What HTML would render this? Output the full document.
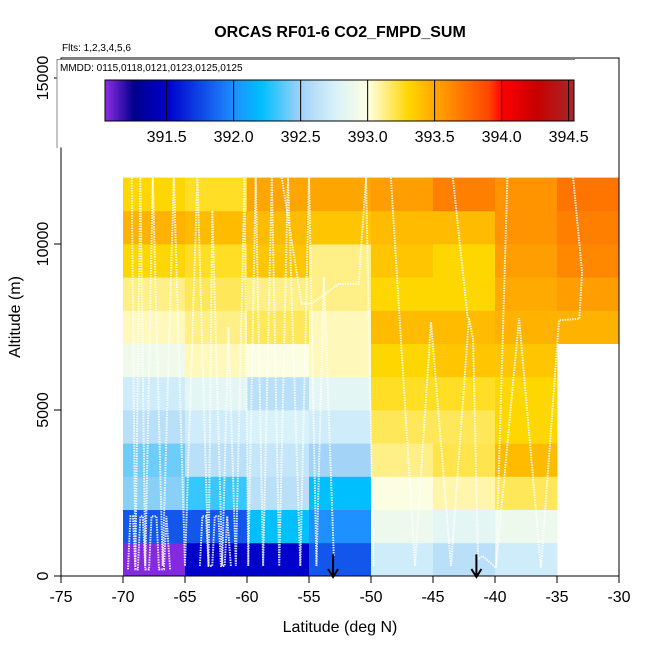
<!DOCTYPE html>
<html><head><meta charset="utf-8"><style>
html,body{margin:0;padding:0;background:#fff;}
svg{display:block;font-family:"Liberation Sans",sans-serif;}
</style></head><body>
<svg id="chart" width="650" height="650" viewBox="0 0 650 650">
<rect x="0" y="0" width="650" height="650" fill="#fff"/>
<g id="cells"></g>
<g id="tracks"></g>
<g id="arrows"></g>
<g id="axes"></g>
<g id="legend"></g>
<text x="340" y="37" text-anchor="middle" font-size="16" font-weight="bold">ORCAS RF01-6 CO2_FMPD_SUM</text>
<text x="62" y="51" font-size="10">Flts: 1,2,3,4,5,6</text>
<text x="340" y="632" text-anchor="middle" font-size="16">Latitude (deg N)</text>
<text transform="translate(20,317) rotate(-90)" text-anchor="middle" font-size="16">Altitude (m)</text>
</svg>
<script>
const colLats = [-70,-65,-60,-55,-50,-45,-40,-35];
const col0 = [391.05,391.8,392.45,392.4,392.6,392.7,392.9,393.05,393.12,393.3,393.45,393.3];
const col1 = [391.5,391.8,392.3,392.6,392.7,392.82,393.05,393.12,393.18,393.25,393.41,393.25];
const col2 = [391.5,392.2,392.6,392.65,392.75,392.6,392.98,393.18,393.12,393.37,393.41,393.5];
const col3 = [391.8,392.0,392.2,392.5,392.7,392.82,393.05,393.05,393.12,393.12,393.37,393.5];
const col4 = [392.7,392.88,392.98,393.12,393.18,393.25,393.3,393.41,393.3,393.37,393.41,393.53];
const col5 = [392.6,392.82,393.07,393.2,393.18,393.25,393.37,393.41,393.3,393.3,393.41,393.66];
const col6 = [392.7,392.88,393.18,393.41,393.3,393.3,393.37,393.45,393.48,393.53,393.57,393.57];
const col7 = [null,null,null,null,null,null,null,393.45,393.53,393.62,393.66,393.7];
const cellWidthDeg = 5, cellHeightM = 1000;
const xTicks = [-75,-70,-65,-60,-55,-50,-45,-40,-35,-30];
const yTicks = [0,5000,10000,15000];
const cbTicks = ["391.5","392.0","392.5","393.0","393.5","394.0","394.5"];
const cbMin = 391.04, cbMax = 394.54;
const trackALat = [-69.3,-69.0,-68.6,-68.2,-67.6,-66.8,-65.9,-65.0,-64.0,-63.1,-62.8,-62.0,-61.5,-60.9,-60.2,-59.9,-59.3,-58.7,-58.0,-57.4,-56.7,-55.7,-55.0,-54.4,-53.8,-53.0];
const trackAAlt = [12000,300,12000,300,12000,300,12000,300,12000,300,11000,300,7500,300,12000,300,12000,300,12000,300,12000,300,12000,300,9000,600];
const trackBLat = [-69.6,-69.4,-69.2,-69.0,-68.8,-68.6,-68.4,-68.2,-67.9,-67.7,-67.3,-67.1,-66.7,-66.5,-66.2];
const trackBAlt = [200,1800,1800,200,200,1800,1800,200,200,1800,1800,200,200,1800,200];
const trackCLat = [-63.8,-63.6,-63.3,-63.1,-62.8,-62.6,-62.3,-62.1,-61.8,-61.6,-61.3];
const trackCAlt = [300,1800,1800,300,300,1800,1800,300,300,1800,300];
const trackDLat = [-48.4,-46.45,-45.16,-43.55,-42.1,-41.77,-41.37,-41.0,-39.92,-38.06,-36.3,-34.84,-33.2,-32.98,-33.7];
const trackDAlt = [12000,300,7650,300,7770,7140,500,600,250,7770,250,7700,7750,9150,12000];
const trackELat = [-43.4,-42.2];
const trackEAlt = [12000,7770];
const trackFLat = [-39.0,-39.92];
const trackFAlt = [12000,250];
const trackGLat = [-57.2,-55.6,-54.8,-52.6,-51.0,-50.4,-49.8];
const trackGAlt = [12000,8200,8200,8800,8800,12000,300];
const arrowLats = [-53.06,-41.5];

const NS='http://www.w3.org/2000/svg';
const X0=61,X1=619,Y0=576,Y1=58;
const xs = lat => X0 + (lat+75)/45*(X1-X0);
const ys = alt => Y0 - alt*(498/15000);
const stops=[[391.04,'#8a2be2'],[391.25,'#00008b'],[391.5,'#0000cd'],[392.0,'#1e90ff'],[392.2,'#00bfff'],[392.5,'#a4d3f8'],[392.75,'#d8f2fa'],[393.0,'#ffffe0'],[393.3,'#ffd700'],[393.5,'#ffa500'],[393.9,'#ff4500'],[394.0,'#ff0000'],[394.25,'#c80000'],[394.54,'#a52a2a']];
function hex(h){return [1,3,5].map(i=>parseInt(h.substr(i,2),16));}
function color(v){
  if(v<=stops[0][0])return stops[0][1];
  for(let i=1;i<stops.length;i++){
    if(v<=stops[i][0]){const a=hex(stops[i-1][1]),b=hex(stops[i][1]);const t=(v-stops[i-1][0])/(stops[i][0]-stops[i-1][0]);
      return 'rgb('+a.map((c,k)=>Math.round(c+(b[k]-c)*t)).join(',')+')';}
  }
  return stops[stops.length-1][1];
}
function mk(tag,attrs,parent){const e=document.createElementNS(NS,tag);for(const k in attrs)e.setAttribute(k,attrs[k]);parent.appendChild(e);return e;}
const cols=[col0,col1,col2,col3,col4,col5,col6,col7];
const gC=document.getElementById('cells');
cols.forEach((col,ci)=>{col.forEach((v,ri)=>{if(v===null)return;
  const x=xs(colLats[ci]),x2=xs(colLats[ci]+cellWidthDeg),y=ys((ri+1)*cellHeightM),y2=ys(ri*cellHeightM);
  const r=mk('rect',{x:x,y:y,width:x2-x+0.4,height:y2-y+0.4,fill:color(v)},gC);
  
  
});});
const gT=document.getElementById('tracks');
[[trackALat,trackAAlt],[trackBLat,trackBAlt],[trackCLat,trackCAlt],[trackDLat,trackDAlt],[trackELat,trackEAlt],[trackFLat,trackFAlt],[trackGLat,trackGAlt]].forEach(([la,al])=>{
  const p=mk('polyline',{points:la.map((l,i)=>xs(l)+','+ys(al[i])).join(' '),fill:'none',stroke:'#fff','stroke-width':2,'stroke-dasharray':'1.5 1','stroke-opacity':0.85},gT);
  
  
});
const gA=document.getElementById('arrows');
arrowLats.forEach(l=>{const x=xs(l);
  const a=mk('path',{d:`M${x},${ys(650)} L${x},${Y0+1} M${x-5},${Y0-7} L${x},${Y0+1} L${x+5},${Y0-7}`,stroke:'#000','stroke-width':2,fill:'none'},gA);
  
  
});
const gX=document.getElementById('axes');
const fr=mk('rect',{x:X0,y:Y1,width:X1-X0,height:Y0-Y1,fill:'none',stroke:'#000','stroke-width':1},gX);


xTicks.forEach(t=>{const x=xs(t);
  mk('line',{x1:x,y1:Y0,x2:x,y2:Y0+7,stroke:'#000'},gX);
  const tx=mk('text',{x:x,y:Y0+26,'text-anchor':'middle','font-size':16},gX);tx.textContent=t;
  
  
});
yTicks.forEach(t=>{const y=ys(t);
  mk('line',{x1:X0,y1:y,x2:X0-7,y2:y,stroke:'#000'},gX);
  const tx=mk('text',{transform:`translate(${X0-13},${y}) rotate(-90)`,'text-anchor':'middle','font-size':16},gX);tx.textContent=t;
  
  
});
const gL=document.getElementById('legend');
const lb=mk('rect',{x:57,y:59.5,width:518,height:88,fill:'#fff',stroke:'none'},gL);


mk('path',{d:'M57,148 L57,59.5 L575,59.5',fill:'none',stroke:'#888','stroke-width':1},gL);
const mm=mk('text',{x:60,y:71,'font-size':10},gL);mm.textContent='MMDD: 0115,0118,0121,0123,0125,0125';


const CB0=105,CB1=574,CBT=80,CBB=121;
const cx=v=>CB0+(v-cbMin)/(cbMax-cbMin)*(CB1-CB0);
for(let i=0;i<235;i++){const v=cbMin+(cbMax-cbMin)*i/235;const v2=cbMin+(cbMax-cbMin)*(i+1)/235;
  mk('rect',{x:cx(v),y:CBT,width:cx(v2)-cx(v)+0.5,height:CBB-CBT,fill:color(v)},gL);}
const cbf=mk('rect',{x:CB0,y:CBT,width:CB1-CB0,height:CBB-CBT,fill:'none',stroke:'#000'},gL);


cbTicks.forEach(t=>{const x=cx(parseFloat(t));
  mk('line',{x1:x,y1:CBT,x2:x,y2:CBB,stroke:'#000'},gL);
  const tx=mk('text',{x:x,y:142,'text-anchor':'middle','font-size':16},gL);tx.textContent=t;
  
  
});
</script>
</body></html>
